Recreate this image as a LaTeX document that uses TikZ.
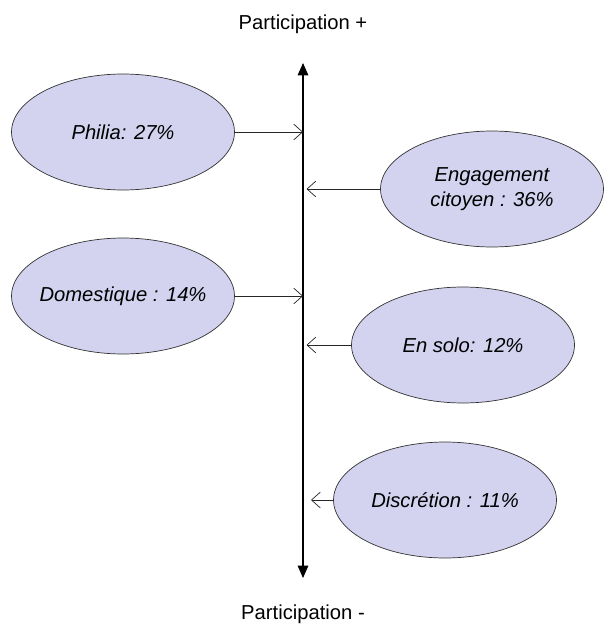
\documentclass[tikz,border=0pt]{standalone}
\usepackage{fontspec}
\setmainfont{Liberation Sans}
\usetikzlibrary{shapes.geometric,arrows.meta}
\definecolor{lavande}{RGB}{211,211,240}
\begin{document}
\begin{tikzpicture}[x=0.02cm,y=-0.02cm,
    part/.style={ellipse, draw=black!80, fill=lavande, minimum width=4.46cm, minimum height=2.32cm, inner sep=0pt, align=center, font=\fontsize{11.5}{14}\selectfont\itshape},
    lien/.style={-{Straight Barb[length=5pt,width=9pt]}, black!85},
    titre/.style={font=\fontsize{11.5}{14}\selectfont}]
    \useasboundingbox (0,0) rectangle (603,625);
    \coordinate (haut) at (303,63);
    \coordinate (bas) at (303,578);
    \draw[{Triangle[length=7pt,width=6pt]}-{Triangle[length=7pt,width=6pt]}, semithick] (haut) -- (bas);
    \node[titre] (plus) at (303,24) {Participation +};
    \node[titre] (moins) at (303,614) {Participation -};
    \node[part] (philia) at (123,132) {Philia: 27\%};
    \node[part] (engag) at (492,189) {Engagement\\citoyen : 36\%};
    \node[part] (domest) at (123,296) {\makebox[3cm]{Domestique : 14\%}};
    \node[part] (solo) at (463,345) {En solo: 12\%};
    \node[part] (discr) at (445,500) {Discrétion : 11\%};
    \coordinate (pointe) at (311,500);
    \draw[lien] (philia.east) -- (philia.east -| haut);
    \draw[lien] (engag.west) -- ([xshift=2]engag.west -| haut);
    \draw[lien] (domest.east) -- (domest.east -| haut);
    \draw[lien] (solo.west) -- ([xshift=2]solo.west -| haut);
    \draw[lien] (discr.west) -- (pointe);
\end{tikzpicture}
\end{document}
